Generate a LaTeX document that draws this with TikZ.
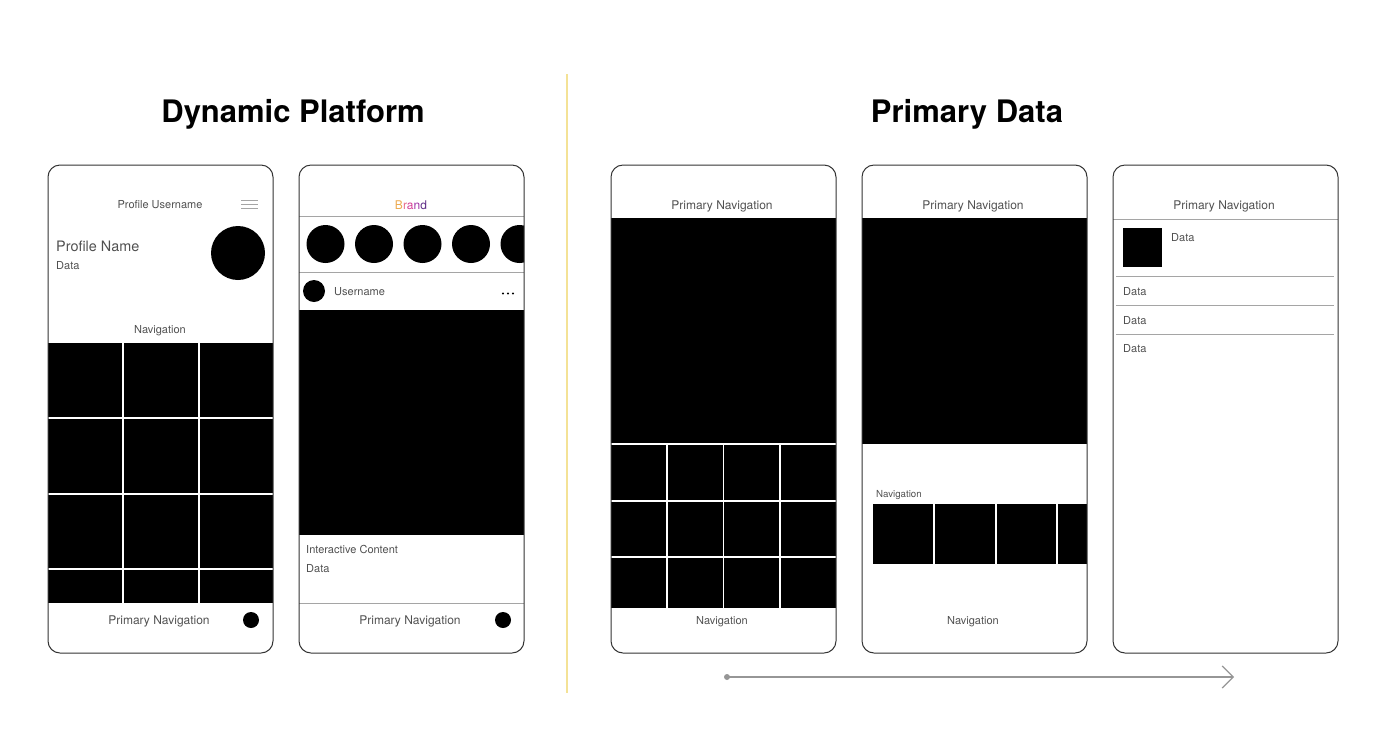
\documentclass[tikz,border=0pt]{standalone}
\usepackage{fontspec}
\setmainfont{TeX Gyre Heros}
\usetikzlibrary{arrows.meta}

\definecolor{frame}{RGB}{51,51,51}
\definecolor{label}{RGB}{80,80,80}
\definecolor{rule}{RGB}{165,165,165}
\definecolor{divider}{RGB}{244,226,150}
\definecolor{flow}{RGB}{150,150,150}
\definecolor{brandB}{RGB}{236,170,80}
\definecolor{brandR}{RGB}{230,105,135}
\definecolor{brandA}{RGB}{212,60,150}
\definecolor{brandN}{RGB}{160,50,165}
\definecolor{brandD}{RGB}{95,45,135}

\tikzset{
  phone/.style={draw=frame, line width=1pt, rounded corners=12pt},
  title/.style={inner sep=0pt, anchor=base, font=\bfseries\fontsize{31}{36}\selectfont},
  tag/.style={text=label, inner sep=0pt, anchor=base, font=\fontsize{11}{13}\selectfont},
  bigtag/.style={tag, font=\fontsize{14.4}{16}\selectfont},
  navtag/.style={tag, font=\fontsize{12}{14}\selectfont},
  smalltag/.style={tag, font=\fontsize{9.7}{11}\selectfont},
  sep/.style={draw=rule, line width=0.8pt},
  gap/.style={draw=white, line width=1.6pt},
}

\begin{document}
\begin{tikzpicture}[x=1pt,y=-1pt]

\useasboundingbox (0,0) rectangle (1400,732);

  %% titles and divider
  \node[title] (dyntitle) at (293,122) {Dynamic Platform};
  \node[title] (primtitle) at (967,122) {Primary Data};
  \draw[divider, line width=1.4pt] (567,74) -- (567,693);

  %% phone 1 : profile
  \node[tag] (p1user) at (160,208) {Profile Username};
  \draw[rule, line width=0.9pt] (241,200.5) -- (258,200.5);
  \draw[rule, line width=0.9pt] (241,204.5) -- (258,204.5);
  \draw[rule, line width=0.9pt] (241,208.5) -- (258,208.5);
  \node[bigtag, anchor=base west] (p1name) at (56,251.5) {Profile Name};
  \node[tag, anchor=base west] (p1data) at (56,269.5) {Data};
  \fill (238,253) circle (27pt);
  \node[tag] (p1nav) at (160,333) {Navigation};
  \fill (48,343) rectangle (273,603);
  \draw[gap] (123,343) -- (123,603);
  \draw[gap] (199,343) -- (199,603);
  \draw[gap] (48,418) -- (273,418);
  \draw[gap] (48,494) -- (273,494);
  \draw[gap] (48,569) -- (273,569);
  \node[navtag] (p1prim) at (159,624) {Primary Navigation};
  \fill (251,620) circle (8pt);
  \draw[phone] (48,165) rectangle (273,653);

  %% phone 2 : feed
  \node[navtag] (p2brand) at (411,209)
  {{\color{brandB}B}{\color{brandR}r}{\color{brandA}a}{\color{brandN}n}{\color{brandD}d}};
  \draw[sep] (299,216) -- (524,216);
  \begin{scope}
    \clip (299,216) rectangle (524,272);
    \fill (325.5,244) circle (19pt);
    \fill (374,244) circle (19pt);
    \fill (422.5,244) circle (19pt);
    \fill (471,244) circle (19pt);
    \fill (519.5,244) circle (19pt);
  \end{scope}
  \draw[sep] (299,272) -- (524,272);
  \fill (314,291) circle (11pt);
  \node[tag, anchor=base west] (p2user) at (334,295) {Username};
  \fill[label] (503,293.5) circle (1.2pt);
  \fill[label] (508,293.5) circle (1.2pt);
  \fill[label] (513,293.5) circle (1.2pt);
  \fill (299,310) rectangle (524,535);
  \node[tag, anchor=base west] (p2inter) at (306,553) {Interactive Content};
  \node[tag, anchor=base west] (p2data) at (306,572) {Data};
  \draw[sep] (299,603) -- (524,603);
  \node[navtag] (p2prim) at (410,624) {Primary Navigation};
  \fill (503,620) circle (8pt);
  \draw[phone] (299,165) rectangle (524,653);

  %% phone 3 : hero and grid
  \node[navtag] (p3prim) at (722,209) {Primary Navigation};
  \fill (611,218) rectangle (836,608);
  \draw[gap] (611,444) -- (836,444);
  \draw[gap] (611,501) -- (836,501);
  \draw[gap] (611,557) -- (836,557);
  \draw[gap] (667,444) -- (667,608);
  \draw[gap] (723.5,444) -- (723.5,608);
  \draw[gap] (780,444) -- (780,608);
  \node[tag] (p3nav) at (722,624) {Navigation};
  \draw[phone] (611,165) rectangle (836,653);

  %% phone 4 : hero and carousel
  \node[navtag] (p4prim) at (973,209) {Primary Navigation};
  \fill (862,218) rectangle (1087,444);
  \node[smalltag, anchor=base west] (p4nav) at (876,497.5) {Navigation};
  \fill (873,503.5) rectangle (933,564);
  \fill (935,503.5) rectangle (995,564);
  \fill (997,503.5) rectangle (1056,564);
  \fill (1058,503.5) rectangle (1087,564);
  \node[tag] (p4bottom) at (973,624) {Navigation};
  \draw[phone] (862,165) rectangle (1087,653);

  %% phone 5 : list
  \node[navtag] (p5prim) at (1224,209) {Primary Navigation};
  \draw[sep] (1113,219) -- (1338,219);
  \fill (1123,228) rectangle (1162,267);
  \node[tag, anchor=base west] (p5head) at (1171,241) {Data};
  \draw[sep] (1116,276) -- (1334,276);
  \node[tag, anchor=base west] (p5rowa) at (1123,295) {Data};
  \draw[sep] (1116,305) -- (1334,305);
  \node[tag, anchor=base west] (p5rowb) at (1123,324) {Data};
  \draw[sep] (1116,334) -- (1334,334);
  \node[tag, anchor=base west] (p5rowc) at (1123,352) {Data};
  \draw[phone] (1113,165) rectangle (1338,653);

  %% flow arrow
  \coordinate (flowstart) at (727,677);
  \coordinate (flowend) at (1234,677);
  \fill[flow] (flowstart) circle (3pt);
  \draw[flow, line width=1.2pt, -{Straight Barb[length=11pt,width=22pt]}] (flowstart) -- (flowend);

\end{tikzpicture}
\end{document}
